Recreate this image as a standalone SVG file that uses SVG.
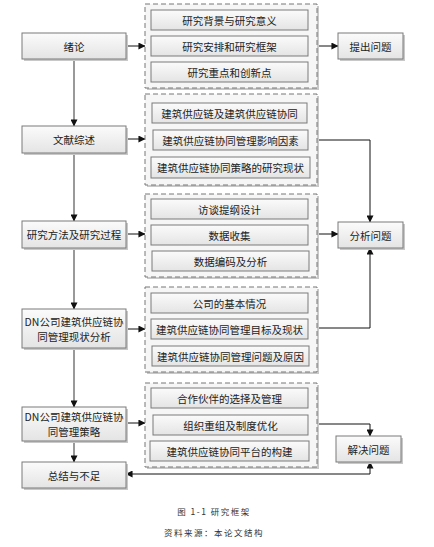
<svg xmlns="http://www.w3.org/2000/svg" width="434" height="547" viewBox="0 0 434 547">
<defs>
<linearGradient id="bg" x1="0" y1="0" x2="0" y2="1">
<stop offset="0" stop-color="#fbfbfb"/>
<stop offset="1" stop-color="#e4e4e4"/>
</linearGradient>
<marker id="ah" viewBox="0 0 8 8" refX="7.5" refY="4" markerWidth="7" markerHeight="7" markerUnits="userSpaceOnUse" orient="auto-start-reverse">
<path d="M0,0 L8,4 L0,8 z" fill="#111"/>
</marker>
</defs>
<style>
.box{fill:url(#bg);stroke:#7a7a7a;stroke-width:1}
.sh{fill:#c8c8c8}
.grp{fill:#f6f6f6;stroke:#777;stroke-width:1;stroke-dasharray:5,3}
.t{font-family:"Noto Sans CJK SC","Noto Sans CJK JP",sans-serif;font-size:10.5px;fill:#222;text-anchor:middle;dominant-baseline:central}
.cap{font-family:"Noto Sans CJK SC",sans-serif;font-size:8.5px;fill:#333;text-anchor:middle;letter-spacing:1.5px}
.ln{fill:none;stroke:#111;stroke-width:1}
.lg{fill:none;stroke:#555;stroke-width:1.2}
</style>

<g id="connectors">
<path class="lg" d="M74,59 V126" marker-end="url(#ah)"/>
<path class="lg" d="M74,153 V221" marker-end="url(#ah)"/>
<path class="lg" d="M74,248 V309" marker-end="url(#ah)"/>
<path class="lg" d="M74,348 V407" marker-end="url(#ah)"/>
<path class="lg" d="M74,441 V462" marker-end="url(#ah)"/>
<path class="ln" d="M126,46 H145" marker-end="url(#ah)"/>
<path class="ln" d="M126,139 H145" marker-end="url(#ah)"/>
<path class="ln" d="M126,234 H145" marker-end="url(#ah)"/>
<path class="ln" d="M126,329 H145" marker-end="url(#ah)"/>
<path class="ln" d="M126,423 H145" marker-end="url(#ah)"/>
<path class="ln" d="M317,46 H338" marker-end="url(#ah)"/>
<path class="ln" d="M317,140 H370 V222" marker-end="url(#ah)"/>
<path class="ln" d="M317,234 H338" marker-end="url(#ah)"/>
<path class="ln" d="M317,328 H370 V248" marker-end="url(#ah)"/>
<path class="ln" d="M317,424 H370 V436" marker-end="url(#ah)"/>
<path class="ln" d="M126,474 H370 V462" marker-start="url(#ah)" marker-end="url(#ah)"/>
</g>

<g id="n-xulun"><rect class="sh" x="24" y="35" width="104" height="26"/><rect class="box" x="22" y="33" width="104" height="26"/><text class="t" x="74" y="46">绪论</text></g>
<g id="n-wenxian"><rect class="sh" x="24" y="128" width="104" height="27"/><rect class="box" x="22" y="126" width="104" height="27"/><text class="t" x="74" y="139.5">文献综述</text></g>
<g id="n-fangfa"><rect class="sh" x="24" y="223" width="104" height="27"/><rect class="box" x="22" y="221" width="104" height="27"/><text class="t" x="74" y="234.5">研究方法及研究过程</text></g>
<g id="n-xianzhuang"><rect class="sh" x="24" y="311" width="104" height="39"/><rect class="box" x="22" y="309" width="104" height="39"/><text class="t" x="74" y="321">DN公司建筑供应链协</text><text class="t" x="74" y="336">同管理现状分析</text></g>
<g id="n-celue"><rect class="sh" x="24" y="409" width="104" height="34"/><rect class="box" x="22" y="407" width="104" height="34"/><text class="t" x="74" y="416.5">DN公司建筑供应链协</text><text class="t" x="74" y="431.5">同管理策略</text></g>
<g id="n-zongjie"><rect class="sh" x="24" y="464" width="104" height="26"/><rect class="box" x="22" y="462" width="104" height="26"/><text class="t" x="74" y="475">总结与不足</text></g>

<g id="g1"><rect class="sh" x="147" y="6" width="172" height="84"/><rect class="grp" x="145" y="4" width="172" height="84"/>
<rect class="box" x="151" y="10" width="157" height="20"/><text class="t" x="229.5" y="20">研究背景与研究意义</text>
<rect class="box" x="151" y="36" width="157" height="20"/><text class="t" x="229.5" y="46">研究安排和研究框架</text>
<rect class="box" x="151" y="62" width="157" height="20"/><text class="t" x="229.5" y="72">研究重点和创新点</text></g>

<g id="g2"><rect class="sh" x="147" y="96" width="172" height="91"/><rect class="grp" x="145" y="94" width="172" height="91"/>
<rect class="box" x="152" y="103" width="155" height="20"/><text class="t" x="229.5" y="113">建筑供应链及建筑供应链协同</text>
<rect class="box" x="153" y="130" width="155" height="20"/><text class="t" x="230.5" y="140">建筑供应链协同管理影响因素</text>
<rect class="box" x="151" y="157" width="159" height="21"/><text class="t" x="230.5" y="167.5">建筑供应链协同策略的研究现状</text></g>

<g id="g3"><rect class="sh" x="147" y="196" width="172" height="83"/><rect class="grp" x="145" y="194" width="172" height="83"/>
<rect class="box" x="151" y="199" width="157" height="20"/><text class="t" x="229.5" y="209">访谈提纲设计</text>
<rect class="box" x="151" y="225" width="157" height="20"/><text class="t" x="229.5" y="235">数据收集</text>
<rect class="box" x="152" y="251" width="157" height="20"/><text class="t" x="230.5" y="261">数据编码及分析</text></g>

<g id="g4"><rect class="sh" x="147" y="289" width="172" height="85"/><rect class="grp" x="145" y="287" width="172" height="85"/>
<rect class="box" x="151" y="293" width="157" height="20"/><text class="t" x="229.5" y="303">公司的基本情况</text>
<rect class="box" x="151" y="319" width="157" height="20"/><text class="t" x="229.5" y="329">建筑供应链协同管理目标及现状</text>
<rect class="box" x="152" y="346" width="157" height="20"/><text class="t" x="230.5" y="356">建筑供应链协同管理问题及原因</text></g>

<g id="g5"><rect class="sh" x="147" y="385" width="172" height="84"/><rect class="grp" x="145" y="383" width="172" height="84"/>
<rect class="box" x="151" y="388" width="157" height="20"/><text class="t" x="229.5" y="398">合作伙伴的选择及管理</text>
<rect class="box" x="153" y="415" width="155" height="20"/><text class="t" x="230.5" y="425">组织重组及制度优化</text>
<rect class="box" x="150" y="441" width="159" height="20"/><text class="t" x="229.5" y="451">建筑供应链协同平台的构建</text></g>

<g id="n-tichu"><rect class="sh" x="340" y="35" width="65" height="26"/><rect class="box" x="338" y="33" width="65" height="26"/><text class="t" x="370.5" y="46">提出问题</text></g>
<g id="n-fenxi"><rect class="sh" x="340" y="224" width="65" height="26"/><rect class="box" x="338" y="222" width="65" height="26"/><text class="t" x="370.5" y="235">分析问题</text></g>
<g id="n-jiejue"><rect class="sh" x="338" y="438" width="65" height="26"/><rect class="box" x="336" y="436" width="65" height="26"/><text class="t" x="368.5" y="449">解决问题</text></g>

<text class="cap" x="214" y="515">图 1-1 研究框架</text>
<text class="cap" x="214" y="536">资料来源：本论文结构</text>
</svg>
